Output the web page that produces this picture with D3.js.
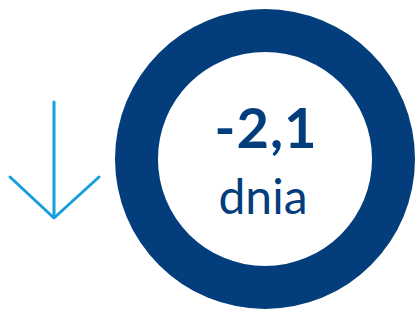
<!DOCTYPE html>
<html>
<head>
<meta charset="utf-8">
<script src="https://cdn.jsdelivr.net/npm/d3@7"></script>
<style>
  body { margin: 0; background: #fff; }
</style>
</head>
<body>
<div id="chart"></div>
<script>
// dane
const values = [-2.1]
const units = ["dnia"]
const ringShare = [1]

const width = 415
const height = 309
const cx = 265, cy = 159

const svg = d3.select("#chart").append("svg")
    .attr("width", width)
    .attr("height", height)

// pierscien
const pie = d3.pie().sort(null)
const arc = d3.arc().innerRadius(107).outerRadius(150)

svg.append("g")
    .attr("transform", "translate(" + cx + "," + cy + ")")
    .selectAll("path")
    .data(pie(ringShare))
    .enter()
    .append("path")
    .attr("d", arc)
    .attr("fill", "#033d7c")

// strzalka w dol
const arrow = svg.append("g")
    .attr("fill", "none")
    .attr("stroke", "#159fdb")
    .attr("stroke-width", 3)
    .attr("stroke-linecap", "round")
    .attr("stroke-linejoin", "round")
arrow.append("line").attr("x1", 54).attr("y1", 102).attr("x2", 54).attr("y2", 217)
arrow.append("polyline").attr("points", "10,177 54,218 99,177")

const fmt = v => d3.format(".1f")(v).replace(".", ",").replace("\u2212", "-")

svg.append("text")
    .attr("x", cx + 1).attr("y", 148)
    .attr("text-anchor", "middle")
    .attr("font-family", "Lato, sans-serif")
    .attr("font-weight", "bold")
    .attr("font-size", 56)
    .attr("letter-spacing", 1)
    .attr("fill", "#033d7c")
    .text(fmt(values[0]))

svg.append("text")
    .attr("x", cx - 2).attr("y", 214)
    .attr("text-anchor", "middle")
    .attr("font-family", "Lato, sans-serif")
    .attr("font-size", 48)
    .attr("fill", "#033d7c")
    .text(units[0])
</script>
</body>
</html>
